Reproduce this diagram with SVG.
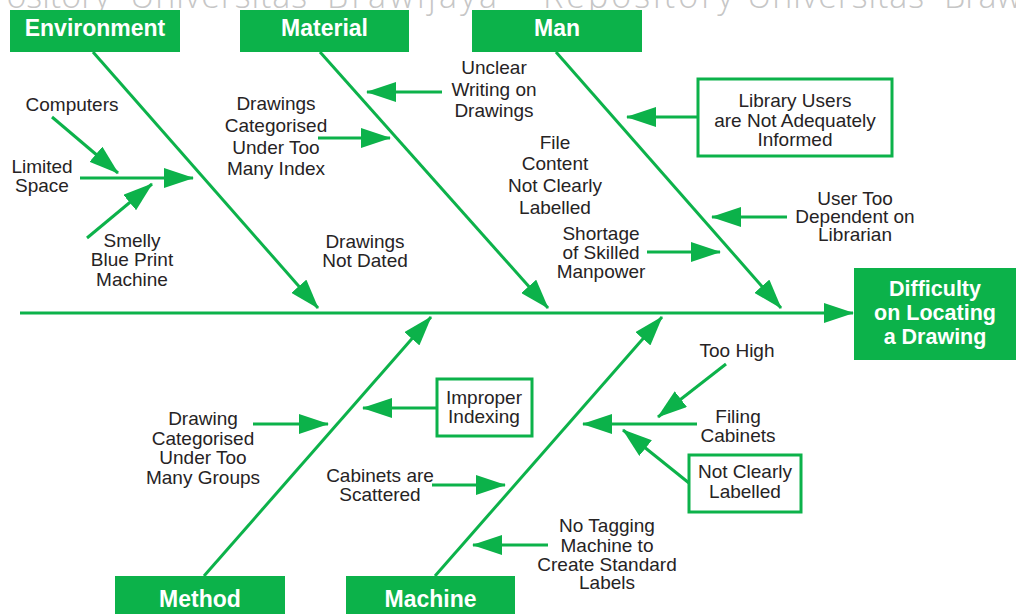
<svg xmlns="http://www.w3.org/2000/svg" width="1016" height="614" viewBox="0 0 1016 614">
  <style>
    .head { fill: #0cb24a; }
    .head-text { font-family: "Liberation Sans", Arial, sans-serif; font-weight: bold; font-size: 23px; fill: #ffffff; text-anchor: middle; }
    .effect-text { font-family: "Liberation Sans", Arial, sans-serif; font-weight: bold; font-size: 21.5px; fill: #ffffff; text-anchor: middle; }
    .cause { font-family: "Liberation Sans", Arial, sans-serif; font-size: 19px; fill: #262324; text-anchor: middle; }
    .framed { fill: #ffffff; stroke: #0cb24a; stroke-width: 3; }
    .bone { stroke: #0cb24a; stroke-width: 3; fill: none; marker-end: url(#tip); }
    .mark { font-family: "Open Sans", "Liberation Sans", sans-serif; font-weight: 300; font-size: 34px; fill: #c6c6c6; }
  </style>
  <defs>
    <marker id="tip" markerUnits="userSpaceOnUse" markerWidth="30" markerHeight="20" viewBox="0 0 30 20" refX="29" refY="10" orient="auto">
      <path d="M0,0 L30,10 L0,20 Z" fill="#0cb24a"/>
    </marker>
  </defs>

  <rect width="1016" height="614" fill="#ffffff"/>

  <!-- repository watermark along the top edge -->
  <g id="watermark">
    <text class="mark" x="110" y="8" text-anchor="end">ository</text>
    <text class="mark" x="130" y="8" textLength="177">Universitas</text>
    <text class="mark" x="327" y="8" textLength="170">Brawijaya</text>
    <text class="mark" x="543" y="8" textLength="190">Repository</text>
    <text class="mark" x="747" y="8" textLength="177">Universitas</text>
    <text class="mark" x="944" y="8">Brawijaya</text>
  </g>

  <!-- spine, bones and cause arrows -->
  <g id="connectors">
    <line class="bone" x1="20" y1="313" x2="853" y2="313"/>

    <line class="bone" x1="93" y1="52" x2="318" y2="308"/>
    <line class="bone" x1="320" y1="52" x2="548" y2="308"/>
    <line class="bone" x1="556" y1="52" x2="781" y2="308"/>
    <line class="bone" x1="204" y1="576" x2="431" y2="317"/>
    <line class="bone" x1="435" y1="576" x2="662" y2="317"/>

    <line class="bone" x1="52" y1="117" x2="118" y2="173"/>
    <line class="bone" x1="80" y1="178" x2="193" y2="178"/>
    <line class="bone" x1="87" y1="238" x2="152" y2="184"/>

    <line class="bone" x1="318" y1="138" x2="390" y2="138"/>
    <line class="bone" x1="442" y1="92" x2="367" y2="92"/>

    <line class="bone" x1="698" y1="117" x2="627" y2="117"/>
    <line class="bone" x1="787" y1="217" x2="712" y2="217"/>
    <line class="bone" x1="647" y1="252" x2="720" y2="252"/>

    <line class="bone" x1="253" y1="424" x2="328" y2="424"/>
    <line class="bone" x1="437" y1="408" x2="363" y2="408"/>

    <line class="bone" x1="432" y1="485" x2="505" y2="485"/>
    <line class="bone" x1="548" y1="545" x2="473" y2="545"/>
    <line class="bone" x1="697" y1="424" x2="583" y2="424"/>
    <line class="bone" x1="726" y1="364" x2="658" y2="417"/>
    <line class="bone" x1="689" y1="483" x2="623" y2="430"/>
  </g>

  <!-- category heads -->
  <g id="environment">
    <rect class="head" x="10" y="10" width="170" height="42"/>
    <text class="head-text" x="95" y="36">Environment</text>
  </g>
  <g id="material">
    <rect class="head" x="240" y="10" width="169" height="42"/>
    <text class="head-text" x="324.5" y="36">Material</text>
  </g>
  <g id="man">
    <rect class="head" x="472" y="10" width="170" height="42"/>
    <text class="head-text" x="557" y="36">Man</text>
  </g>
  <g id="method">
    <rect class="head" x="115" y="576" width="170" height="40"/>
    <text class="head-text" x="200" y="607">Method</text>
  </g>
  <g id="machine">
    <rect class="head" x="346" y="576" width="169" height="40"/>
    <text class="head-text" x="430.5" y="607">Machine</text>
  </g>

  <!-- effect -->
  <g id="effect">
    <rect class="head" x="854" y="268" width="162" height="92"/>
    <text class="effect-text" x="935" y="296">Difficulty</text>
    <text class="effect-text" x="935" y="320">on Locating</text>
    <text class="effect-text" x="935" y="344">a Drawing</text>
  </g>

  <!-- environment causes -->
  <g id="computers">
    <text class="cause" x="72" y="111">Computers</text>
  </g>
  <g id="limited-space">
    <text class="cause" x="42" y="173">Limited</text>
    <text class="cause" x="42" y="192">Space</text>
  </g>
  <g id="smelly-machine">
    <text class="cause" x="132" y="247">Smelly</text>
    <text class="cause" x="132" y="266">Blue Print</text>
    <text class="cause" x="132" y="286">Machine</text>
  </g>

  <!-- material causes -->
  <g id="many-index">
    <text class="cause" x="276" y="110">Drawings</text>
    <text class="cause" x="276" y="132">Categorised</text>
    <text class="cause" x="276" y="154">Under Too</text>
    <text class="cause" x="276" y="175">Many Index</text>
  </g>
  <g id="unclear-writing">
    <text class="cause" x="494" y="74">Unclear</text>
    <text class="cause" x="494" y="96">Writing on</text>
    <text class="cause" x="494" y="117">Drawings</text>
  </g>
  <g id="not-dated">
    <text class="cause" x="365" y="248">Drawings</text>
    <text class="cause" x="365" y="267">Not Dated</text>
  </g>

  <!-- man causes -->
  <g id="file-content">
    <text class="cause" x="555" y="149">File</text>
    <text class="cause" x="555" y="170">Content</text>
    <text class="cause" x="555" y="192">Not Clearly</text>
    <text class="cause" x="555" y="214">Labelled</text>
  </g>
  <g id="shortage">
    <text class="cause" x="601" y="240">Shortage</text>
    <text class="cause" x="601" y="259">of Skilled</text>
    <text class="cause" x="601" y="278">Manpower</text>
  </g>
  <g id="users-informed">
    <rect class="framed" x="698" y="79" width="194" height="77"/>
    <text class="cause" x="795" y="107">Library Users</text>
    <text class="cause" x="795" y="127">are Not Adequately</text>
    <text class="cause" x="795" y="146">Informed</text>
  </g>
  <g id="user-dependent">
    <text class="cause" x="855" y="205">User Too</text>
    <text class="cause" x="855" y="223">Dependent on</text>
    <text class="cause" x="855" y="241">Librarian</text>
  </g>

  <!-- method causes -->
  <g id="many-groups">
    <text class="cause" x="203" y="425">Drawing</text>
    <text class="cause" x="203" y="445">Categorised</text>
    <text class="cause" x="203" y="464">Under Too</text>
    <text class="cause" x="203" y="484">Many Groups</text>
  </g>
  <g id="improper-indexing">
    <rect class="framed" x="437" y="379" width="95" height="57"/>
    <text class="cause" x="484" y="404">Improper</text>
    <text class="cause" x="484" y="423">Indexing</text>
  </g>

  <!-- machine causes -->
  <g id="scattered">
    <text class="cause" x="380" y="482">Cabinets are</text>
    <text class="cause" x="380" y="501">Scattered</text>
  </g>
  <g id="no-tagging">
    <text class="cause" x="607" y="532">No Tagging</text>
    <text class="cause" x="607" y="552">Machine to</text>
    <text class="cause" x="607" y="571">Create Standard</text>
    <text class="cause" x="607" y="589">Labels</text>
  </g>
  <g id="filing-cabinets">
    <text class="cause" x="738" y="423">Filing</text>
    <text class="cause" x="738" y="442">Cabinets</text>
  </g>
  <g id="too-high">
    <text class="cause" x="737" y="357">Too High</text>
  </g>
  <g id="cabinets-unlabelled">
    <rect class="framed" x="689" y="455" width="112" height="57"/>
    <text class="cause" x="745" y="478">Not Clearly</text>
    <text class="cause" x="745" y="498">Labelled</text>
  </g>
</svg>
